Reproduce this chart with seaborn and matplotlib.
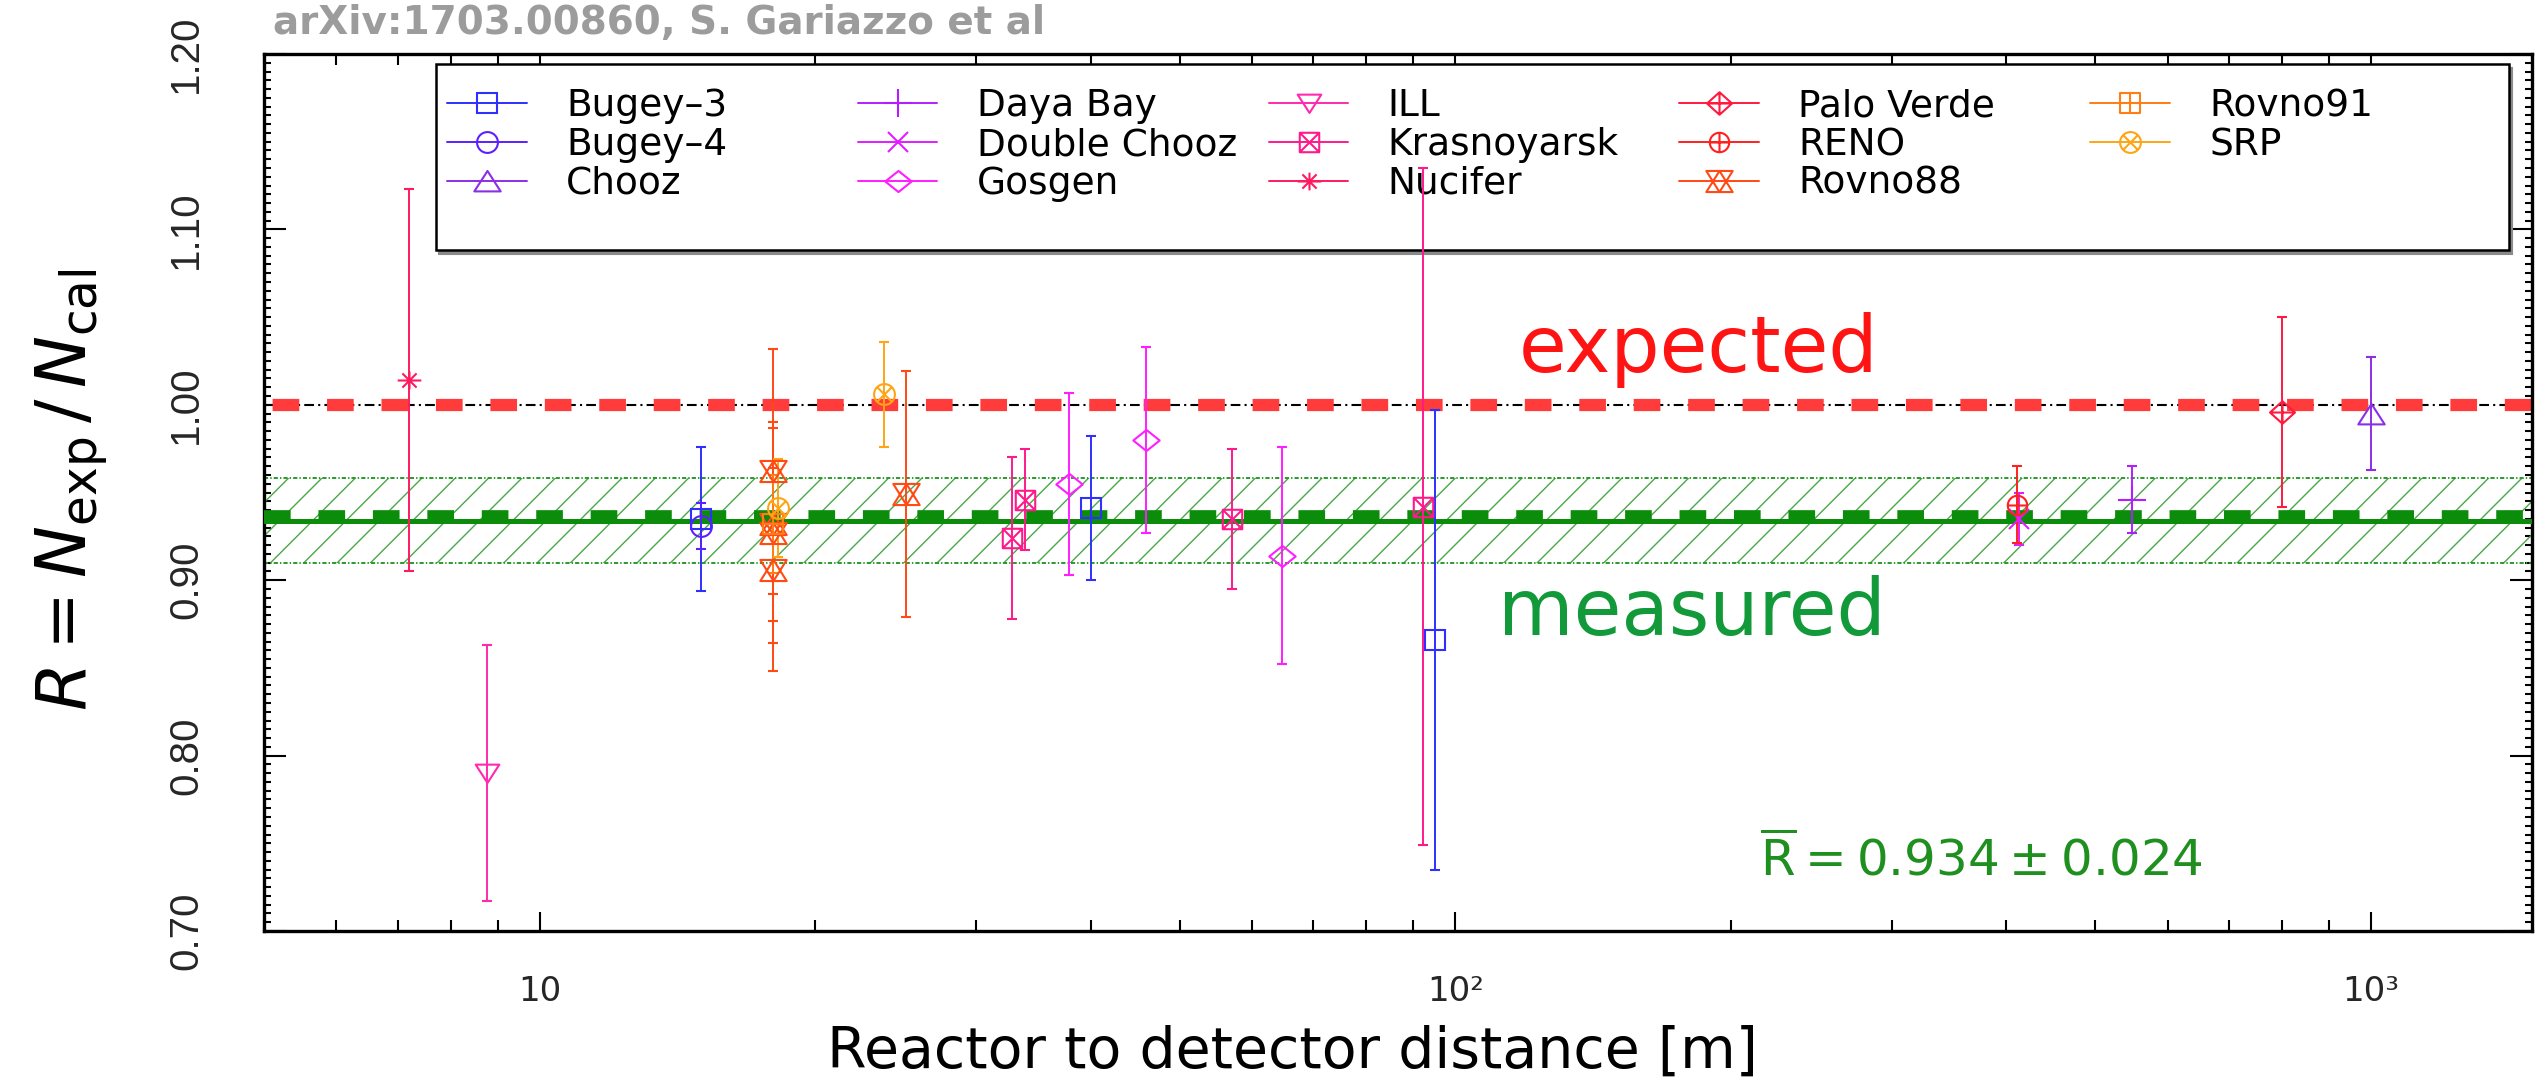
import numpy as np
import pandas as pd
import matplotlib
matplotlib.use("Agg")
import matplotlib.pyplot as plt
import matplotlib.ticker as mticker
import matplotlib.transforms as mtransforms
from matplotlib.path import Path
from matplotlib.lines import Line2D
from matplotlib.legend import Legend
from matplotlib.patches import Rectangle
import seaborn as sns

# ---------------------------------------------------------------- data
experiments = ["Bugey-3", "Bugey-4", "Chooz", "Daya Bay", "Double Chooz",
               "Gosgen", "ILL", "Krasnoyarsk", "Nucifer", "Palo Verde",
               "RENO", "Rovno88", "Rovno91", "SRP"]
legend_labels = ["Bugey\u20133", "Bugey\u20134", "Chooz", "Daya Bay", "Double Chooz",
                 "Gosgen", "ILL", "Krasnoyarsk", "Nucifer", "Palo Verde",
                 "RENO", "Rovno88", "Rovno91", "SRP"]
experiment_colors = ["#2f2fff", "#5a20ff", "#8c2ee6", "#b41eff", "#e11eff",
                     "#ff1eff", "#ff2aae", "#ff1a8c", "#ff1a60", "#ff1a40",
                     "#ff2020", "#ff4a14", "#ff7d14", "#ffa514"]

point_experiment = ["Bugey-3", "Bugey-3", "Bugey-3", "Bugey-4", "Chooz",
                    "Daya Bay", "Double Chooz", "Gosgen", "Gosgen", "Gosgen",
                    "ILL", "Krasnoyarsk", "Krasnoyarsk", "Krasnoyarsk", "Krasnoyarsk",
                    "Nucifer", "Palo Verde", "RENO",
                    "Rovno88", "Rovno88", "Rovno88", "Rovno88", "Rovno88",
                    "Rovno91", "SRP", "SRP"]
point_distance = [15.0, 40.0, 95.0, 15.0, 1000.0,
                  548.0, 413.0, 37.9, 45.9, 64.7,
                  8.76, 32.8, 33.9, 57.0, 92.3,
                  7.2, 800.0, 411.0,
                  18.0, 18.0, 18.0, 18.0, 25.1,
                  18.0, 18.2, 23.8]
point_ratio = [0.935, 0.941, 0.866, 0.931, 0.995,
               0.946, 0.935, 0.955, 0.980, 0.914,
               0.790, 0.924, 0.946, 0.935, 0.942,
               1.014, 0.996, 0.943,
               0.962, 0.932, 0.927, 0.906, 0.949,
               0.932, 0.941, 1.006]
point_error = [0.041, 0.041, 0.131, 0.013, 0.032,
               0.019, 0.015, 0.052, 0.053, 0.062,
               0.073, 0.046, 0.029, 0.040, 0.193,
               0.109, 0.054, 0.022,
               0.070, 0.055, 0.063, 0.058, 0.070,
               0.028, 0.028, 0.030]

expected_ratio = 1.0
mean_ratio = 0.934
mean_error = 0.024

y_ticks = [0.70, 0.80, 0.90, 1.00, 1.10, 1.20]
x_ticks = [10, 100, 1000]
x_tick_labels = ["10", "10\u00b2", "10\u00b3"]

df = pd.DataFrame({"experiment": point_experiment, "distance": point_distance,
                   "ratio": point_ratio, "error": point_error})

# ---------------------------------------------------------------- style
sns.set_theme(style="ticks")
plt.rcParams["font.family"] = ["DejaVu Sans"]
plt.rcParams.update({
    "mathtext.fontset": "dejavusans",
    "axes.linewidth": 2.4,
    "lines.scale_dashes": False,
    "hatch.linewidth": 1.0,
    "hatch.color": "#4aa84a",
})
palette = dict(zip(experiments, sns.color_palette(experiment_colors)))


# ---------------------------------------------------------------- marker shapes
def compound(*parts):
    verts, codes = [], []
    for pts, closed in parts:
        verts.append(pts[0]); codes.append(Path.MOVETO)
        for p in pts[1:]:
            verts.append(p); codes.append(Path.LINETO)
        if closed:
            verts.append(pts[0]); codes.append(Path.CLOSEPOLY)
    return Path(verts, codes)


theta = np.linspace(0, 2 * np.pi, 40, endpoint=False)
circle = [(np.cos(t), np.sin(t)) for t in theta]
square = [(-1, -1), (1, -1), (1, 1), (-1, 1)]
plus_lines = [([(-1, 0), (1, 0)], False), ([(0, -1), (0, 1)], False)]
cross_lines = [([(-0.7, -0.7), (0.7, 0.7)], False), ([(-0.7, 0.7), (0.7, -0.7)], False)]

tri_up = compound(([(-1, -0.75), (1, -0.75), (0, 0.8)], True))
tri_down = compound(([(-1, 0.75), (1, 0.75), (0, -0.8)], True))
diamond = compound(([(-1, 0), (0, -0.8), (1, 0), (0, 0.8)], True))
diamond_plus = compound(([(-1, 0), (0, -0.9), (1, 0), (0, 0.9)], True),
                        ([(-1, 0), (1, 0)], False), ([(0, -0.9), (0, 0.9)], False))
square_x = compound((square, True), ([(-1, -1), (1, 1)], False), ([(-1, 1), (1, -1)], False))
square_plus = compound((square, True), *plus_lines)
circle_plus = compound((circle, True), *plus_lines)
circle_x = compound((circle, True), *cross_lines)
asterisk = compound(([(-1, 0), (1, 0)], False), ([(0, -0.75), (0, 0.75)], False),
                    ([(-0.6, -0.6), (0.6, 0.6)], False), ([(-0.6, 0.6), (0.6, -0.6)], False))
hexagram = compound(([(-1, -0.8), (1, -0.8), (0, 0.8)], True),
                    ([(-1, 0.8), (1, 0.8), (0, -0.8)], True))

markers = {"Bugey-3": "s", "Bugey-4": "o", "Chooz": tri_up, "Daya Bay": "+",
           "Double Chooz": "x", "Gosgen": diamond, "ILL": tri_down,
           "Krasnoyarsk": square_x, "Nucifer": asterisk, "Palo Verde": diamond_plus,
           "RENO": circle_plus, "Rovno88": hexagram, "Rovno91": square_plus,
           "SRP": circle_x}
marker_sizes = {"Bugey-3": 14, "Bugey-4": 15, "Chooz": 19, "Daya Bay": 20,
                "Double Chooz": 14, "Gosgen": 19, "ILL": 17, "Krasnoyarsk": 14,
                "Nucifer": 17, "Palo Verde": 18, "RENO": 14, "Rovno88": 19,
                "Rovno91": 14, "SRP": 15}

# ---------------------------------------------------------------- figure
fig = plt.figure(figsize=(25.48, 10.87), dpi=100)
ax = fig.add_axes([264 / 2548, 1 - 931 / 1087, 2268 / 2548, 877 / 1087])
ax.set_facecolor("white")
ax.set_xscale("log")
ax.set_xlim(5, 1500)
ax.set_ylim(0.70, 1.20)

# expected ratio: thin dash-dot line under thick red dashes
ax.axhline(expected_ratio, color="black", lw=1.5, ls=(0, (7, 3, 1.5, 3)), zorder=2)
ax.axhline(expected_ratio, color="#ff3b3b", lw=8.8, ls=(33.0, (19.2, 20.0)), zorder=2.5)

# measured average with its uncertainty band
ax.axhspan(mean_ratio - mean_error, mean_ratio + mean_error, facecolor="none",
           edgecolor="#4aa84a", hatch="/", lw=0, zorder=1.2)
for edge in (mean_ratio - mean_error, mean_ratio + mean_error):
    ax.axhline(edge, color="#2a9a2a", lw=1.4, ls=(0, (3, 1.5, 1, 1.5)), zorder=1.3)
ax.axhline(mean_ratio, color="#0b8c0b", lw=3.6, zorder=2.6)
dashed_mean = ax.axhline(mean_ratio, color="#0b8c0b", lw=8.4, ls=(0, (19.2, 20.0)), zorder=2.6)
dashed_mean.set_transform(dashed_mean.get_transform()
                          + mtransforms.ScaledTranslation(0, 3 / 72, fig.dpi_scale_trans))

# data points with error bars
for exp in experiments:
    sub = df[df["experiment"] == exp]
    c = palette[exp]
    ax.errorbar(sub["distance"], sub["ratio"], yerr=sub["error"], ls="none",
                marker=markers[exp], ms=marker_sizes[exp], mfc="none", mec=c, mew=1.5,
                ecolor=c, elinewidth=1.4, capsize=3.6, capthick=1.4, zorder=4)

# ticks
ax.xaxis.set_major_locator(mticker.FixedLocator(x_ticks))
ax.xaxis.set_major_formatter(mticker.FixedFormatter(x_tick_labels))
ax.xaxis.set_minor_locator(mticker.LogLocator(base=10, subs=np.arange(2, 10)))
ax.xaxis.set_minor_formatter(mticker.NullFormatter())
ax.yaxis.set_major_locator(mticker.FixedLocator(y_ticks))
ax.yaxis.set_major_formatter(mticker.FormatStrFormatter("%.2f"))
ax.yaxis.set_minor_locator(mticker.MultipleLocator(0.005))

ax.tick_params(which="both", direction="in", top=True, right=True, color="black", width=1.5)
ax.tick_params(axis="x", which="major", length=14, pad=32, labelsize=24.5)
ax.tick_params(axis="x", which="minor", length=8)
ax.tick_params(axis="y", which="major", length=16, pad=42.5, labelsize=29, labelrotation=90)
ax.tick_params(axis="y", which="minor", length=5)
for lab in ax.get_yticklabels():
    lab.set_fontfamily("Liberation Sans")
    lab.set_va("center")
for sp in ax.spines.values():
    sp.set_color("black")
    sp.set_linewidth(2.4)

# axis labels
ax.set_xlabel("Reactor to detector distance [m]", fontsize=41, color="black")
ax.xaxis.set_label_coords(0.4533, -0.1072)
ax.set_ylabel(r"$R = N_{\rm exp}\,/\,N_{\rm cal}$", fontsize=50, color="black")
ax.yaxis.set_label_coords(-0.068, 0.503)

# annotations
blend = ax.get_yaxis_transform()
ax.text(0.6327, 1.0186, "expected", transform=blend, ha="center", va="baseline",
        fontsize=56, color="#ff1414", zorder=5)
ax.text(0.6296, 0.8689, "measured", transform=blend, ha="center", va="baseline",
        fontsize=56, color="#12993a", zorder=5)
ax.text(0.6596, 0.7314, r"$\overline{\mathrm{R}} = 0.934 \pm 0.024$", transform=blend,
        ha="left", va="baseline", fontsize=36, color="#1f8f1f", zorder=5)

fig.text(273 / 2548, 1 - 34 / 1087, "arXiv:1703.00860, S. Gariazzo et al",
         color="#9c9c9c", fontsize=28, fontweight="bold", ha="left", va="baseline")

# legend: framed box with five fixed-width columns
frame_x0, frame_y0, frame_w, frame_h = 0.0758, 0.7765, 0.9142, 0.2121
shadow = Rectangle((frame_x0, frame_y0), frame_w, frame_h, transform=ax.transAxes
                   + mtransforms.ScaledTranslation(2 / 72, -3 / 72, fig.dpi_scale_trans),
                   facecolor="#8a8a8a", edgecolor="#8a8a8a", lw=1.5, zorder=1.85)
frame = Rectangle((frame_x0, frame_y0), frame_w, frame_h, transform=ax.transAxes,
                  facecolor="white", edgecolor="black", lw=1.8, zorder=1.9)
ax.add_patch(shadow)
ax.add_patch(frame)

col_x = [0.0807, 0.2619, 0.4431, 0.6239, 0.8052]
legend_top = 0.9607
for k, x0 in enumerate(col_x):
    names = experiments[3 * k:3 * k + 3]
    labels = legend_labels[3 * k:3 * k + 3]
    handles = [Line2D([], [], color=palette[n], lw=1.4, marker=markers[n],
                      ms=marker_sizes[n], mfc="none", mec=palette[n], mew=1.5)
               for n in names]
    leg = Legend(ax, handles, labels, loc="upper left", bbox_to_anchor=(x0, legend_top),
                 bbox_transform=ax.transAxes, frameon=False, fontsize=27,
                 handlelength=2.12, handletextpad=1.05, labelspacing=0.07,
                 borderpad=0, borderaxespad=0, numpoints=1)
    for t in leg.get_texts():
        t.set_color("black")
    leg.set_zorder(2)
    ax.add_artist(leg)

fig.savefig("out.png", dpi=100, facecolor="white")
